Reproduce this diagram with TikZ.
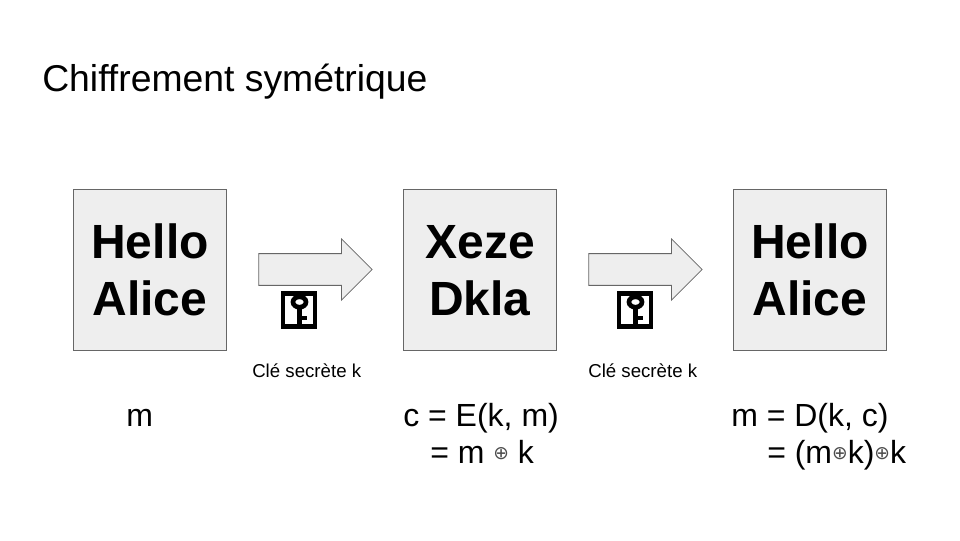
\documentclass[tikz,border=0pt]{standalone}
\usepackage{fontspec}
\usepackage{tikz}
\usetikzlibrary{shapes.arrows}
\setmainfont{Liberation Sans}
\newfontfamily\symfont{DejaVu Sans}
\definecolor{boxfill}{HTML}{EEEEEE}
\definecolor{boxline}{HTML}{666666}
\newcommand*{\xorsym}{\raisebox{3pt}{\symfont\fontsize{14}{14}\selectfont\textcolor{black!70}{⊕}}}
\tikzset{
	msgbox/.style={draw=boxline, fill=boxfill, line width=0.7pt, minimum width=115pt, minimum height=120.5pt, inner sep=0pt, align=center, text depth=-4pt, font=\fontsize{36}{42.75}\selectfont\bfseries},
	blockarrow/.style={single arrow, draw=boxline, fill=boxfill, line width=0.6pt, minimum height=85pt, inner xsep=0pt, inner ysep=11.6pt, single arrow head extend=11pt},
	formula/.style={anchor=base west, inner sep=0pt, font=\fontsize{24}{24}\selectfont},
	keylabel/.style={anchor=base west, inner sep=0pt, font=\fontsize{14}{14}\selectfont},
	keyicon/.pic={
		\draw[line width=3.3pt] (-16,-16.5) rectangle (16,16.5);
		\draw[line width=3.5pt] (0.5,-8) ellipse (6.5 and 5.2);
		\fill (-1.7,-4) rectangle (3,15);
		\fill (3,5.5) rectangle (7.5,10);
	}
}
\begin{document}
\begin{tikzpicture}[x=0.75pt, y=-0.75pt]
		\useasboundingbox (0,0) rectangle (960,540);
		\node[anchor=base west, inner sep=0pt, font=\fontsize{28}{28}\selectfont] (title) at (42,91) {Chiffrement symétrique};
		
		\node[msgbox] (plain) at (150,270) {Hello\\Alice};
		\node[msgbox] (cipher) at (480,270) {Xeze\\Dkla};
		\node[msgbox] (clear) at (810,270) {Hello\\Alice};
		
		\node[blockarrow] (enc) at (307.5,269.5) {};
		\node[blockarrow] (dec) at (637.5,269.5) {};
		
		\pic at (299,310) {keyicon};
		\pic at (635,310) {keyicon};
		\node[keylabel] (lab1) at (252,377) {Clé secrète k};
		\node[keylabel] (lab2) at (588,377) {Clé secrète k};
		
		\node[formula] (m) at (126,426) {m};
		\node[formula] (c1) at (403,426) {c = E(k, m)};
		\node[formula] (c2) at (430,463) {= m \xorsym{} k};
		\node[formula] (d1) at (731,426) {m = D(k, c)};
		\node[formula] (d2) at (767,463) {= (m\xorsym k)\xorsym k};
		\end{tikzpicture}
\end{document}
